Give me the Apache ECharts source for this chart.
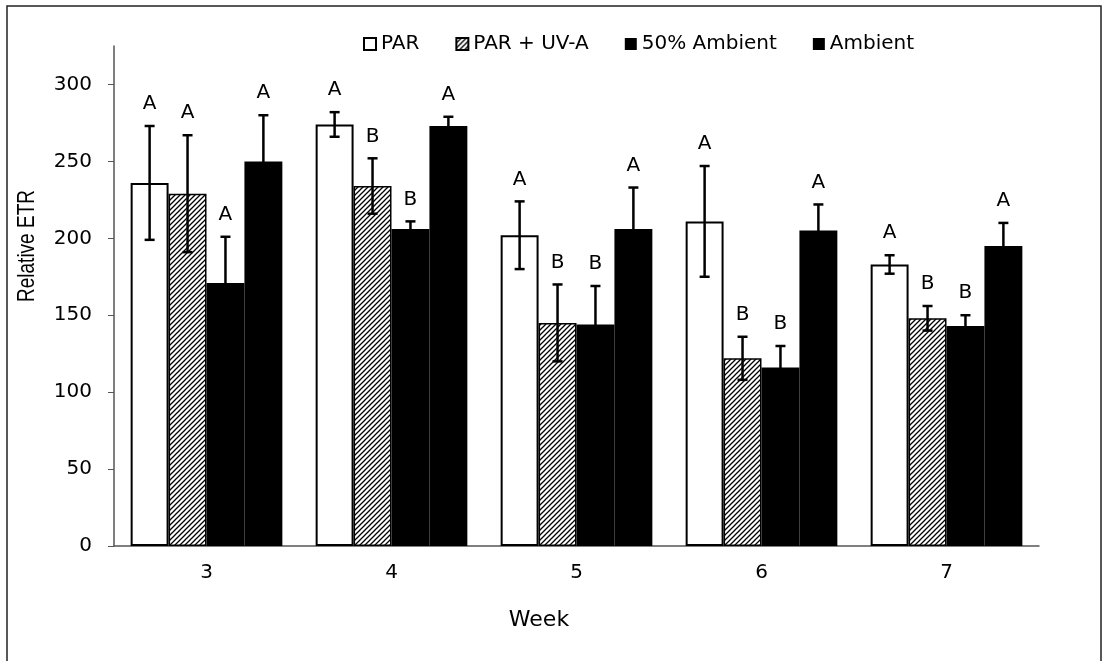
<!DOCTYPE html>
<html>
<head>
<meta charset="utf-8">
<script src="https://cdn.jsdelivr.net/npm/echarts@6.0.0/dist/echarts.min.js"></script>
<style>
html, body { margin: 0; padding: 0; background: #fff; }
#main { width: 1118px; height: 661px; }
</style>
</head>
<body>
<div id="main"></div>
<script>
// values
var weeks = ['3', '4', '5', '6', '7'];
var seriesNames = ['PAR', 'PAR + UV-A', '50% Ambient', 'Ambient'];

var parMean = [236, 274, 202, 211, 183];
var parErr = [37, 8, 22, 36, 6];
var parLetters = ['A', 'A', 'A', 'A', 'A'];

var uvaMean = [229, 234, 145, 122, 148];
var uvaErr = [38, 18, 25, 14, 8];
var uvaLetters = ['A', 'B', 'B', 'B', 'B'];

var halfMean = [171, 206, 144, 116, 143];
var halfErr = [30, 5, 25, 14, 7];
var halfLetters = ['A', 'B', 'B', 'B', 'B'];

var ambMean = [250, 273, 206, 205, 195];
var ambErr = [30, 6, 27, 17, 15];
var ambLetters = ['A', 'A', 'A', 'A', 'A'];

var yTicks = [0, 50, 100, 150, 200, 250, 300];

var means = [parMean, uvaMean, halfMean, ambMean];
var errs = [parErr, uvaErr, halfErr, ambErr];
var letters = [parLetters, uvaLetters, halfLetters, ambLetters];

var gapRatio = 0.18;
var font = '"DejaVu Sans", sans-serif';

// diagonal hatch for PAR + UV-A
function hatch() {
    var c = document.createElement('canvas');
    c.width = 5;
    c.height = 5;
    var g = c.getContext('2d');
    g.fillStyle = '#fff';
    g.fillRect(0, 0, 5, 5);
    g.strokeStyle = '#000';
    g.lineWidth = 1.3;
    g.beginPath();
    g.moveTo(-1, 6); g.lineTo(6, -1);
    g.moveTo(-1, 1); g.lineTo(1, -1);
    g.moveTo(4, 6); g.lineTo(6, 4);
    g.stroke();
    return c;
}

var barStyles = [
    {color: '#fff', borderColor: '#000', borderWidth: 2},
    {color: {image: hatch(), repeat: 'repeat'}, borderColor: '#000', borderWidth: 1.5},
    {color: '#000'},
    {color: '#000'}
];

var errData = [];
for (var s = 0; s < 4; s++) {
    for (var i = 0; i < weeks.length; i++) {
        errData.push([i, s, means[s][i], errs[s][i]]);
    }
}

var series = seriesNames.map(function (name, s) {
    return {
        name: name,
        type: 'bar',
        barGap: 0,
        barCategoryGap: (gapRatio * 100) + '%',
        itemStyle: barStyles[s],
        emphasis: {disabled: true},
        data: means[s]
    };
});

series.push({
    name: 'errors',
    type: 'custom',
    z: 10,
    encode: {x: 0, y: 2},
    data: errData,
    renderItem: function (params, api) {
        var cat = api.value(0), s = api.value(1);
        var mean = api.value(2), err = api.value(3);
        var bw = api.size([1, 0])[0];
        var w = bw * (1 - gapRatio) / 4;
        var cx = api.coord([cat, mean])[0] + (s - 1.5) * w;
        var yTop = api.coord([cat, mean + err])[1];
        var yBot = api.coord([cat, mean - err])[1];
        var st = {stroke: '#000', lineWidth: 2.5};
        return {
            type: 'group',
            children: [
                {type: 'line', shape: {x1: cx, y1: yTop, x2: cx, y2: yBot}, style: st},
                {type: 'line', shape: {x1: cx - 5, y1: yTop, x2: cx + 5, y2: yTop}, style: st},
                {type: 'line', shape: {x1: cx - 5, y1: yBot, x2: cx + 5, y2: yBot}, style: st},
                {
                    type: 'text', x: cx, y: yTop - 12,
                    style: {
                        text: letters[s][cat], fill: '#000',
                        font: '20px ' + font, align: 'center', verticalAlign: 'bottom'
                    }
                }
            ]
        };
    }
});

var chart = echarts.init(document.getElementById('main'));
chart.setOption({
    animation: false,
    backgroundColor: '#fff',
    textStyle: {fontFamily: font, color: '#000'},
    legend: {
        data: seriesNames,
        left: 358,
        top: 29,
        itemWidth: 12,
        itemHeight: 12,
        itemGap: 36,
        icon: 'rect',
        selectedMode: false,
        textStyle: {fontFamily: font, fontSize: 20, color: '#000'}
    },
    grid: {left: 114, right: 79, top: 46, bottom: 115, containLabel: false},
    xAxis: {
        type: 'category',
        data: weeks,
        axisLine: {lineStyle: {color: '#555', width: 1.5}},
        axisTick: {length: 6, lineStyle: {color: '#555'}},
        axisLabel: {fontSize: 20, color: '#000', margin: 17, fontFamily: font}
    },
    yAxis: {
        type: 'value',
        min: 0,
        max: 325,
        interval: 25,
        splitLine: {show: false},
        axisLine: {show: true, lineStyle: {color: '#555', width: 1.5}},
        axisTick: {show: true, length: 6, customValues: yTicks, lineStyle: {color: '#555'}},
        axisLabel: {fontSize: 20, color: '#000', margin: 22, customValues: yTicks, fontFamily: font}
    },
    graphic: [
        {
            type: 'rect',
            shape: {x: 7, y: 6, width: 1094, height: 700},
            style: {fill: 'none', stroke: '#222', lineWidth: 1.5},
            silent: true
        },
        {
            type: 'text',
            x: 27, y: 246,
            rotation: Math.PI / 2,
            scaleY: 1.25,
            style: {
                text: 'Relative ETR', fill: '#000',
                font: '19px "Liberation Sans", Arial, sans-serif',
                align: 'center', verticalAlign: 'middle'
            }
        },
        {
            type: 'text',
            x: 539, y: 620,
            style: {
                text: 'Week', fill: '#000',
                font: '22px ' + font,
                align: 'center', verticalAlign: 'middle'
            }
        }
    ],
    series: series
});
</script>
</body>
</html>
